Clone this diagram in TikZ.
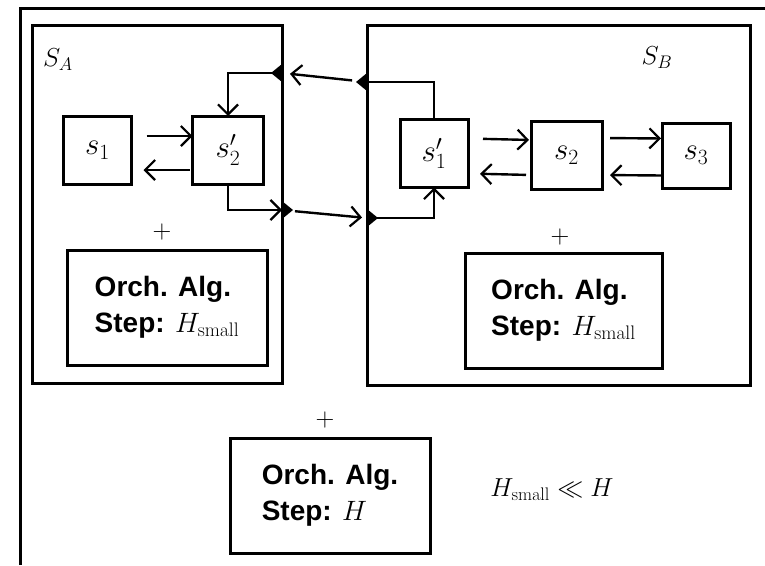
\RequirePackage{fix-cm}
\documentclass[tikz,border=0pt]{standalone}
\usepackage[no-math]{fontspec}
\setmainfont{Liberation Sans}
\usepackage{tikz}
\usetikzlibrary{arrows.meta}

\begin{document}
\begin{tikzpicture}[x=1pt,y=-1pt,
  every node/.style={inner sep=0pt,outer sep=0pt},
  frame/.style={draw,line width=3pt},
  sbox/.style={frame,minimum width=68pt,minimum height=68pt,font=\fontsize{31}{33}\selectfont},
  orch/.style={frame,minimum width=200pt,minimum height=115pt,align=left,font=\fontsize{28}{36}\selectfont\bfseries},
  hand/.style={font=\fontsize{26}{28}\selectfont},
  wire/.style={line width=2.4pt},
  flow/.style={wire,-{Straight Barb[length=10pt,width=20pt,line width=2.2pt]}},
  port/.pic={\fill (0,-9) -- (-11,0) -- (0,9) -- cycle;}]
  \useasboundingbox (0,0) rectangle (765,565);
  \draw[frame] (20,565) |- (765,8);
  \node[frame,minimum width=250pt,minimum height=358pt] (SA) at (157,204) {};
  \node[frame,minimum width=383pt,minimum height=360pt] (SB) at (558.5,205) {};
  \node[hand] (labA) at (58,60) {$S_A$};
  \node[hand] (labB) at (657,58) {$S_B$};
  \node[sbox] (s1) at (97.5,150) {$s_1$};
  \node[sbox,minimum width=71pt] (s2p) at (228,150) {$s_2'$};
  \node[sbox] (s1p) at (434,153.5) {$s_1'$};
  \node[sbox,minimum width=71pt] (s2) at (566.5,155) {$s_2$};
  \node[sbox,minimum height=65pt] (s3) at (696,155.5) {$s_3$};
  \draw[flow,shorten <=15pt] ([yshift=14pt]s1.east) -- ([yshift=14pt]s2p.west);
  \draw[flow,shorten <=3pt,shorten >=12pt] ([yshift=-20pt]s2p.west) -- ([yshift=-20pt]s1.east);
  \draw[flow,shorten <=15pt,shorten >=2pt] ([yshift=15pt]s1p.east) -- ([yshift=15pt]s2.west);
  \draw[flow,shorten <=5pt,shorten >=12pt] ([yshift=-20pt]s2.west) -- ([yshift=-20pt]s1p.east);
  \draw[flow,shorten <=8pt,shorten >=1pt] ([yshift=17pt]s2.east) -- ([yshift=17pt]s3.west);
  \draw[flow,shorten >=8pt] ([yshift=-20pt]s3.west) -- ([yshift=-20pt]s2.east);
  \coordinate (pA1) at (282,73);
  \coordinate (pB1) at (367,82);
  \coordinate (pA2) at (282,210);
  \coordinate (pB2) at (367,218);
  \pic at (pA1) {port};
  \pic at (pB1) {port};
  \pic[rotate=180] at (pA2) {port};
  \pic[rotate=180] at (pB2) {port};
  \draw[wire] (s1p.north) |- (pB1);
  \draw[flow,shorten <=15pt,shorten >=8pt] (pB1) -- (pA1);
  \draw[flow] (pA1) -| (s2p.north);
  \draw[flow] (s2p.south) |- (pA2);
  \draw[flow,shorten <=13pt,shorten >=5pt] (pA2) -- (pB2);
  \draw[flow] (pB2) -| (s1p.south);
  \node[hand] (plusA) at (162,232) {$+$};
  \node[hand] (plusB) at (560,237) {$+$};
  \node[hand] (plus) at (325,420) {$+$};
  \node[orch] (orchA) at (167,307.5) {Orch. Alg.\\Step: $H_{\mathrm{small}}$};
  \node[orch,minimum width=197pt] (orchB) at (563.5,310.5) {Orch. Alg.\\Step: $H_{\mathrm{small}}$};
  \node[orch] (orch) at (330,495.5) {Orch. Alg.\\Step: $H$};
  \node[hand] (rel) at (552,490) {$H_{\mathrm{small}}\ll H$};
\end{tikzpicture}
\end{document}
